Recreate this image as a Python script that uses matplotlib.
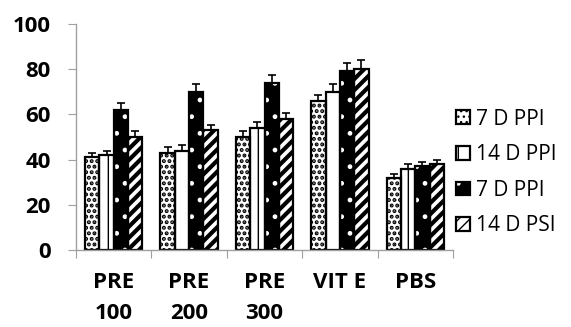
import matplotlib
matplotlib.use("Agg")
import matplotlib.pyplot as plt
import numpy as np
from matplotlib.patches import Patch, Rectangle
from matplotlib.legend_handler import HandlerBase

categories = ["PRE\n100", "PRE\n200", "PRE\n300", "VIT E", "PBS"]
series_names = ["7 D PPI", "14 D PPI", "7 D PPI", "14 D PSI"]
s1 = [41, 43, 50, 66, 32]
s2 = [42, 44, 54, 70, 36]
s3 = [62, 70, 74, 79, 37]
s4 = [50, 53, 58, 80, 38]
e1 = [2, 2.5, 2.5, 2.5, 1.5]
e2 = [2, 2.5, 2.5, 3.5, 2]
e3 = [3, 3.5, 3.5, 3.8, 2]
e4 = [2.5, 2.5, 2.5, 4, 2]
yticks = [0, 20, 40, 60, 80, 100]

fig = plt.figure(figsize=(5.71, 3.27), dpi=100)
ax = fig.add_axes([76/571, 1-250/327, (453-76)/571, (250-24)/327])

x = np.arange(len(categories))
w = 0.19
offsets = [-1.5*w, -0.5*w, 0.5*w, 1.5*w]
vals = [s1, s2, s3, s4]
errs = [e1, e2, e3, e4]

styles = [
    dict(face="white", hatch="...", hcol="black", lw=2.0),
    dict(face="white", hatch="|", hcol="black", lw=1.0),
    dict(face="black", hatch=".", hcol="white", lw=1.0),
    dict(face="white", hatch="///", hcol="black", lw=3.0),
]

for i in range(4):
    st = styles[i]
    plt.rcParams['hatch.linewidth'] = st["lw"]
    ax.bar(x + offsets[i], vals[i], w, color=st["face"], edgecolor=st["hcol"],
           hatch=st["hatch"], linewidth=0, zorder=2)
    ax.bar(x + offsets[i], vals[i], w, facecolor="none", edgecolor="black",
           linewidth=1.6, zorder=3)
    ax.errorbar(x + offsets[i], vals[i], yerr=[np.zeros(5), errs[i]], fmt="none",
                ecolor="black", elinewidth=1.2, capsize=3.2, capthick=1.2, zorder=4)
plt.rcParams['hatch.linewidth'] = 1.0

ax.set_xlim(-0.5, 4.5)
ax.set_ylim(0, 100)
ax.set_yticks(yticks)
ax.set_yticklabels([str(t) for t in yticks], fontsize=16, fontweight="bold",
                   fontfamily="Open Sans")
ax.tick_params(axis="y", length=6, color="#a0a0a0", pad=12)

ax.set_xticks(np.arange(-0.5, 5, 1))
ax.set_xticklabels([])
ax.tick_params(axis="x", which="major", length=6, color="#a0a0a0")
ax.set_xticks(x, minor=True)
ax.set_xticklabels(categories, minor=True, fontsize=16, fontweight="bold",
                   fontfamily="Open Sans", linespacing=1.6, va="top")
ax.tick_params(axis="x", which="minor", length=0, pad=16)

for s in ["top", "right"]:
    ax.spines[s].set_visible(False)
for s in ["left", "bottom"]:
    ax.spines[s].set_color("#a0a0a0")
    ax.spines[s].set_linewidth(1.0)
    ax.spines[s].set_zorder(5)


class HatchHandler(HandlerBase):
    def __init__(self, st):
        super().__init__()
        self.st = st

    def create_artists(self, legend, orig_handle, xdescent, ydescent, width,
                       height, fontsize, trans):
        st = self.st
        r1 = Rectangle((-xdescent, -ydescent), width, height, facecolor=st["face"],
                       edgecolor=st["hcol"], hatch=st["hatch"], linewidth=0,
                       transform=trans)
        r2 = Rectangle((-xdescent, -ydescent), width, height, facecolor="none",
                       edgecolor="black", linewidth=1.6, transform=trans)
        return [r1, r2]


handles = [Patch(label=n) for n in series_names]
hmap = {handles[i]: HatchHandler(styles[i]) for i in range(4)}
leg = fig.legend(handles=handles, handler_map=hmap, loc="center left",
                 bbox_to_anchor=(456/571, 1-172.5/327), frameon=False,
                 prop={"family": "Open Sans", "size": 15},
                 handlelength=0.66, handleheight=0.64, handletextpad=0.3,
                 labelspacing=0.7, borderaxespad=0, borderpad=0)

fig.savefig("out.png", dpi=100)
